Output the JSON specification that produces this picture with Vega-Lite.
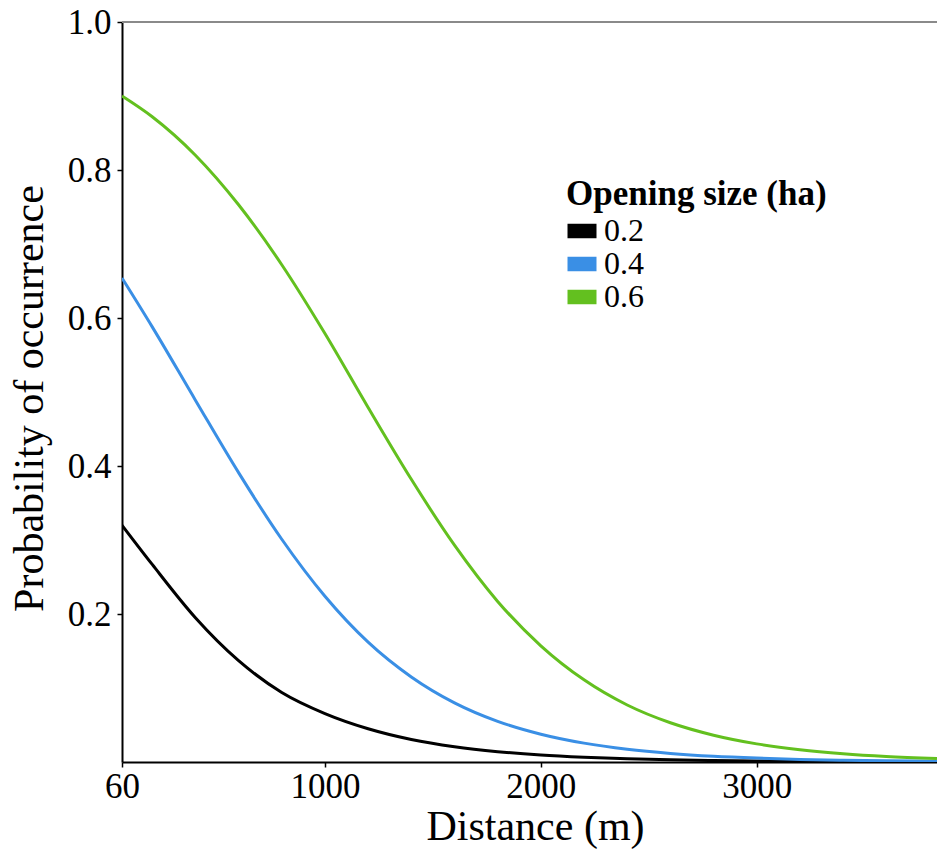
{
  "$schema": "https://vega.github.io/schema/vega-lite/v6.json",
  "width": 815,
  "height": 740,
  "autosize": {"type": "none"},
  "padding": {"left": 122, "top": 22, "right": 0, "bottom": 88},
  "background": "white",
  "config": {
    "font": "Liberation Serif",
    "view": {"stroke": null},
    "axis": {"grid": false, "labelColor": "black", "titleColor": "black", "labelFlush": false, "labelOverlap": false}
  },
  "data": {
    "values": [
      {"d": 60, "p": 0.320, "size": "0.2"},
      {"d": 200, "p": 0.267, "size": "0.2"},
      {"d": 400, "p": 0.195, "size": "0.2"},
      {"d": 600, "p": 0.137, "size": "0.2"},
      {"d": 800, "p": 0.094, "size": "0.2"},
      {"d": 1000, "p": 0.0655, "size": "0.2"},
      {"d": 1200, "p": 0.0450, "size": "0.2"},
      {"d": 1400, "p": 0.0305, "size": "0.2"},
      {"d": 1600, "p": 0.0207, "size": "0.2"},
      {"d": 1800, "p": 0.0140, "size": "0.2"},
      {"d": 2000, "p": 0.0094, "size": "0.2"},
      {"d": 2200, "p": 0.0064, "size": "0.2"},
      {"d": 2400, "p": 0.0043, "size": "0.2"},
      {"d": 2600, "p": 0.0029, "size": "0.2"},
      {"d": 2800, "p": 0.0020, "size": "0.2"},
      {"d": 3000, "p": 0.0013, "size": "0.2"},
      {"d": 3200, "p": 0.0009, "size": "0.2"},
      {"d": 3400, "p": 0.0006, "size": "0.2"},
      {"d": 3600, "p": 0.0004, "size": "0.2"},
      {"d": 3835, "p": 0.0003, "size": "0.2"},
      {"d": 60, "p": 0.654, "size": "0.4"},
      {"d": 200, "p": 0.588, "size": "0.4"},
      {"d": 400, "p": 0.489, "size": "0.4"},
      {"d": 600, "p": 0.391, "size": "0.4"},
      {"d": 800, "p": 0.301, "size": "0.4"},
      {"d": 1000, "p": 0.224, "size": "0.4"},
      {"d": 1200, "p": 0.162, "size": "0.4"},
      {"d": 1400, "p": 0.115, "size": "0.4"},
      {"d": 1600, "p": 0.080, "size": "0.4"},
      {"d": 1800, "p": 0.055, "size": "0.4"},
      {"d": 2000, "p": 0.0376, "size": "0.4"},
      {"d": 2200, "p": 0.0255, "size": "0.4"},
      {"d": 2400, "p": 0.0172, "size": "0.4"},
      {"d": 2600, "p": 0.0116, "size": "0.4"},
      {"d": 2800, "p": 0.0078, "size": "0.4"},
      {"d": 3000, "p": 0.0053, "size": "0.4"},
      {"d": 3200, "p": 0.0035, "size": "0.4"},
      {"d": 3400, "p": 0.0024, "size": "0.4"},
      {"d": 3600, "p": 0.0016, "size": "0.4"},
      {"d": 3835, "p": 0.0010, "size": "0.4"},
      {"d": 60, "p": 0.900, "size": "0.6"},
      {"d": 200, "p": 0.872, "size": "0.6"},
      {"d": 400, "p": 0.820, "size": "0.6"},
      {"d": 600, "p": 0.753, "size": "0.6"},
      {"d": 800, "p": 0.672, "size": "0.6"},
      {"d": 1000, "p": 0.579, "size": "0.6"},
      {"d": 1200, "p": 0.479, "size": "0.6"},
      {"d": 1400, "p": 0.382, "size": "0.6"},
      {"d": 1600, "p": 0.293, "size": "0.6"},
      {"d": 1800, "p": 0.217, "size": "0.6"},
      {"d": 2000, "p": 0.157, "size": "0.6"},
      {"d": 2200, "p": 0.111, "size": "0.6"},
      {"d": 2400, "p": 0.077, "size": "0.6"},
      {"d": 2600, "p": 0.053, "size": "0.6"},
      {"d": 2800, "p": 0.0362, "size": "0.6"},
      {"d": 3000, "p": 0.0245, "size": "0.6"},
      {"d": 3200, "p": 0.0166, "size": "0.6"},
      {"d": 3400, "p": 0.0112, "size": "0.6"},
      {"d": 3600, "p": 0.0075, "size": "0.6"},
      {"d": 3835, "p": 0.0047, "size": "0.6"}
    ]
  },
  "layer": [
    {
      "mark": {"type": "rule", "color": "#8a8a8a", "strokeWidth": 2},
      "encoding": {"y": {"datum": 1, "type": "quantitative"}}
    },
    {
      "mark": {"type": "line", "strokeWidth": 3, "interpolate": "monotone", "clip": true},
      "encoding": {
        "x": {
          "field": "d",
          "type": "quantitative",
          "scale": {"domain": [60, 3835], "nice": false, "zero": false},
          "axis": {
            "values": [60, 1000, 2000, 3000],
            "format": "d",
            "domainColor": "black",
            "domainWidth": 2,
            "tickColor": "black",
            "tickSize": 5,
            "tickWidth": 1.5,
            "labelFontSize": 35,
            "labelPadding": 2,
            "title": "Distance (m)",
            "titleFontSize": 42,
            "titleFontWeight": "normal",
            "titleBaseline": "alphabetic",
            "titleX": 413,
            "titleY": 77
          }
        },
        "y": {
          "field": "p",
          "type": "quantitative",
          "scale": {"domain": [0, 1], "nice": false},
          "axis": {
            "values": [0.2, 0.4, 0.6, 0.8, 1.0],
            "format": ".1f",
            "domainColor": "black",
            "domainWidth": 2,
            "tickColor": "black",
            "tickSize": 5,
            "tickWidth": 1.5,
            "labelFontSize": 35,
            "labelPadding": 6,
            "title": "Probability of occurrence",
            "titleFontSize": 42,
            "titleFontWeight": "normal",
            "titleBaseline": "alphabetic",
            "titleX": -80,
            "titleY": 376
          }
        },
        "color": {
          "field": "size",
          "type": "nominal",
          "scale": {"domain": ["0.2", "0.4", "0.6"], "range": ["#000000", "#3A8FE5", "#63C01F"]},
          "legend": {
            "title": "Opening size (ha)",
            "orient": "none",
            "legendX": 444,
            "legendY": 155,
            "titleFontSize": 35,
            "titleFontWeight": "bold",
            "titleColor": "black",
            "titleLimit": 500,
            "titlePadding": 3,
            "labelFontSize": 32,
            "labelColor": "black",
            "labelOffset": 6,
            "rowPadding": 1,
            "symbolType": "M-1,-0.5H1V0.5H-1Z",
            "symbolSize": 841,
            "symbolStrokeWidth": 0,
            "encode": {
              "symbols": {
                "update": {
                  "fill": {"scale": "color", "field": "value"},
                  "fillOpacity": {"value": 1},
                  "strokeWidth": {"value": 0}
                }
              }
            }
          }
        }
      }
    }
  ]
}
